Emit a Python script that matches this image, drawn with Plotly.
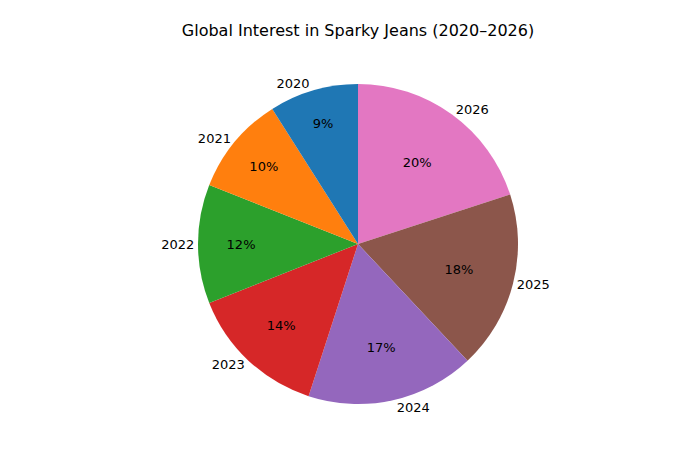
import plotly.graph_objects as go

years = ["2020", "2021", "2022", "2023", "2024", "2025", "2026"]
shares = [9, 10, 12, 14, 17, 18, 20]
colors = ["#1f77b4", "#ff7f0e", "#2ca02c", "#d62728", "#9467bd", "#8c564b", "#e377c2"]

# matplotlib-style counterclockwise from 12 o'clock == reversed order clockwise
r_years, r_shares, r_colors = years[::-1], shares[::-1], colors[::-1]

dom = dict(x=[0.2, 0.8], y=[1 - 396 / 450, 1 - 76 / 450])

fig = go.Figure()
# coloured slices with percentages inside
fig.add_trace(go.Pie(
    labels=r_years, values=r_shares, sort=False, direction="clockwise", rotation=0,
    marker=dict(colors=r_colors), textposition="inside",
    insidetextorientation="horizontal", texttemplate="%{value}%",
    textfont=dict(color="black", size=13), domain=dom, showlegend=False))
# transparent copy that carries the year labels outside
fig.add_trace(go.Pie(
    labels=r_years, values=r_shares, sort=False, direction="clockwise", rotation=0,
    marker=dict(colors=["rgba(0,0,0,0)"] * 7), textinfo="label", textposition="outside",
    textfont=dict(color="black", size=13), domain=dom, showlegend=False, hoverinfo="skip"))

fig.update_layout(
    width=700, height=450, margin=dict(l=0, r=0, t=0, b=0),
    paper_bgcolor="white", font=dict(family="DejaVu Sans", color="black"),
    title=dict(text="Global Interest in Sparky Jeans (2020–2026)", x=0.5, y=1 - 22 / 450,
               xanchor="center", yanchor="middle", font=dict(size=16)),
)
fig.write_html("out.html")
